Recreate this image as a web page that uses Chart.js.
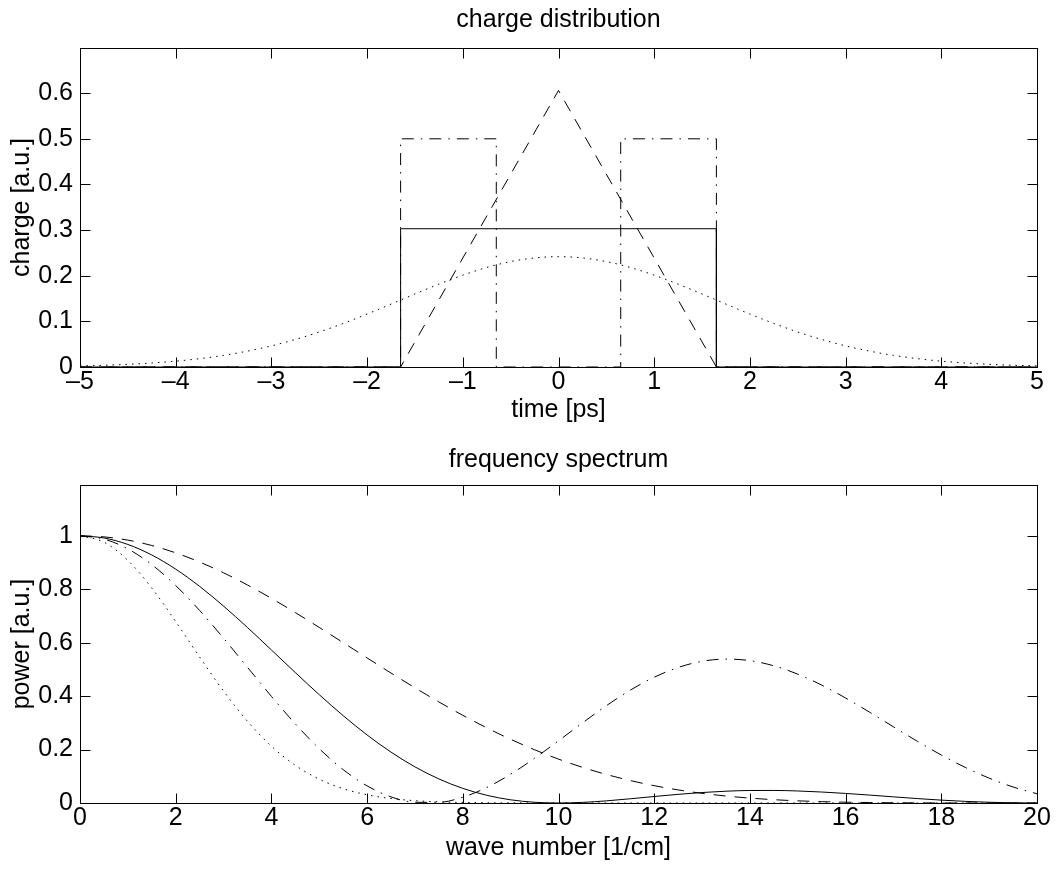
<!DOCTYPE html>
<html>
<head>
<meta charset="utf-8">
<script src="https://cdn.jsdelivr.net/npm/chart.js@4.4.0/dist/chart.umd.min.js"></script>
<style>
  body { margin: 0; background: #fff; }
  canvas { position: absolute; left: 0; }
  #cargaCanvas { top: 0; }
  #espectroCanvas { top: 434px; }
</style>
</head>
<body>
<canvas id="cargaCanvas" width="1056" height="434"></canvas>
<canvas id="espectroCanvas" width="1056" height="435"></canvas>
<script>
// ---- charge distribution (time in ps) ----
const rectT = [-5, -1.65, -1.65, 1.65, 1.65, 5];
const rectQ = [0, 0, 0.303, 0.303, 0, 0];
const triT = [-5, -1.65, 0, 1.65, 5];
const triQ = [0, 0, 0.606, 0, 0];
const dobleT = [-5, -1.65, -1.65, -0.65, -0.65, 0.65, 0.65, 1.65, 1.65, 5];
const dobleQ = [0, 0, 0.5, 0.5, 0, 0, 0.5, 0.5, 0, 0];
const gaussT = [-5, -4.75, -4.5, -4.25, -4, -3.75, -3.5, -3.25, -3, -2.75, -2.5, -2.25, -2, -1.75, -1.5, -1.25, -1, -0.75, -0.5, -0.25,
                0, 0.25, 0.5, 0.75, 1, 1.25, 1.5, 1.75, 2, 2.25, 2.5, 2.75, 3, 3.25, 3.5, 3.75, 4, 4.25, 4.5, 4.75, 5];
const gaussQ = [0.0025, 0.0038, 0.0059, 0.0088, 0.0128, 0.0183, 0.0255, 0.0348, 0.0463, 0.0603, 0.0767, 0.0954, 0.1160, 0.1378, 0.1600, 0.1815, 0.2012, 0.2181, 0.2310, 0.2390,
                0.2418, 0.2390, 0.2310, 0.2181, 0.2012, 0.1815, 0.1600, 0.1378, 0.1160, 0.0954, 0.0767, 0.0603, 0.0463, 0.0348, 0.0255, 0.0183, 0.0128, 0.0088, 0.0059, 0.0038, 0.0025];

// ---- frequency spectrum (wave number in 1/cm) ----
const ondaK = [0, 0.5, 1, 1.5, 2, 2.5, 3, 3.5, 4, 4.5, 5, 5.5, 6, 6.5, 7, 7.5, 8, 8.5, 9, 9.5,
               10, 10.5, 11, 11.5, 12, 12.5, 13, 13.5, 14, 14.5, 15, 15.5, 16, 16.5, 17, 17.5, 18, 18.5, 19, 19.5, 20];
const potRect = [1, 0.9918, 0.9675, 0.9281, 0.8751, 0.8106, 0.7368, 0.6567, 0.5728, 0.4881, 0.4053, 0.3268, 0.2546, 0.1904, 0.1353, 0.0901, 0.0547, 0.0289, 0.0119, 0.0028,
                 0, 0.0023, 0.0080, 0.0158, 0.0243, 0.0324, 0.0392, 0.0441, 0.0468, 0.0470, 0.0450, 0.0411, 0.0358, 0.0296, 0.0230, 0.0165, 0.0108, 0.0061, 0.0027, 0.0007, 0];
const potTri = [1, 0.9959, 0.9837, 0.9637, 0.9361, 0.9018, 0.8614, 0.8158, 0.7659, 0.7126, 0.6570, 0.6001, 0.5429, 0.4863, 0.4312, 0.3782, 0.3281, 0.2813, 0.2383, 0.1992,
                0.1643, 0.1335, 0.1068, 0.0840, 0.0648, 0.0490, 0.0362, 0.0261, 0.0183, 0.0124, 0.0081, 0.0051, 0.0030, 0.0017, 0.0008, 0.0004, 0.0001, 0, 0, 0, 0];
const potDoble = [1, 0.9876, 0.9509, 0.8920, 0.8138, 0.7205, 0.6167, 0.5079, 0.3992, 0.2960, 0.2032, 0.1248, 0.0640, 0.0229, 0.0025, 0.0026, 0.0218, 0.0579, 0.1077, 0.1674,
                  0.2328, 0.2996, 0.3641, 0.4223, 0.4707, 0.5072, 0.5301, 0.5386, 0.5327, 0.5134, 0.4822, 0.4412, 0.3929, 0.3400, 0.2851, 0.2309, 0.1796, 0.1332, 0.0930, 0.0599, 0.0345];
const potGauss = [1, 0.9761, 0.9078, 0.8044, 0.6792, 0.5463, 0.4187, 0.3058, 0.2127, 0.1410, 0.0891, 0.0536, 0.0307, 0.0168, 0.0087, 0.0043, 0.0021, 0.0009, 0.0004, 0.0002,
                  0.0001, 0, 0, 0, 0, 0, 0, 0, 0, 0, 0, 0, 0, 0, 0, 0, 0, 0, 0, 0, 0];

const SOLIDA = [];
const RAYAS = [12, 9];
const PUNTOS = [1.5, 5];
const RAYAPUNTO = [12, 7, 1.5, 7];

const FAMILIA = "'Liberation Sans', Arial, Helvetica, sans-serif";
const fuente = { family: FAMILIA, size: 25 };

function pares(xs, ys) {
    return xs.map((x, i) => ({ x: x, y: ys[i] }));
}

function serie(xs, ys, dash, suave) {
    return {
        data: pares(xs, ys),
        borderColor: '#000',
        borderWidth: 1,
        borderDash: dash,
        pointRadius: 0,
        fill: false,
        showLine: true,
        tension: 0,
        cubicInterpolationMode: suave ? 'monotone' : 'default'
    };
}

// quita ceros sobrantes: 1.0 -> 1, 0.60000001 -> 0.6
function etiqueta(v) {
    return String(Number(v.toFixed(3))).replace('-', '\u2013');
}

// caja completa con marcas hacia adentro (estilo matlab) y titulo centrado en el area
const cajaMarcas = {
    id: 'cajaMarcas',
    afterDatasetsDraw(chart, args, opts) {
        const { ctx, chartArea: a, scales: { x, y } } = chart;
        const L = Math.round(a.left) + 0.5, R = Math.round(a.right) + 0.5;
        const T = Math.round(a.top) + 0.5, B = Math.round(a.bottom) + 0.5;
        ctx.save();
        ctx.strokeStyle = '#000';
        ctx.lineWidth = 1;
        ctx.setLineDash([]);
        ctx.beginPath();
        x.ticks.forEach(t => {
            const px = Math.round(x.getPixelForValue(t.value)) + 0.5;
            ctx.moveTo(px, B); ctx.lineTo(px, B - 10);
            ctx.moveTo(px, T); ctx.lineTo(px, T + 10);
        });
        y.ticks.forEach(t => {
            const py = Math.round(y.getPixelForValue(t.value)) + 0.5;
            ctx.moveTo(L, py); ctx.lineTo(L + 10, py);
            ctx.moveTo(R, py); ctx.lineTo(R - 10, py);
        });
        ctx.stroke();
        ctx.strokeRect(L, T, R - L, B - T);

        ctx.fillStyle = '#000';
        ctx.font = fuente.size + 'px ' + FAMILIA;
        ctx.textAlign = 'center';
        ctx.textBaseline = 'middle';
        ctx.fillText(opts.texto, (a.left + a.right) / 2, opts.y);
        ctx.restore();
    }
};

function crearGrafica(idCanvas, cfg) {
    const ctx = document.getElementById(idCanvas).getContext('2d');
    return new Chart(ctx, {
        type: 'scatter',
        data: { datasets: cfg.series },
        options: {
            responsive: false,
            animation: false,
            layout: { padding: { left: 0, right: 19, top: cfg.arriba, bottom: 0 } },
            plugins: {
                legend: { display: false },
                tooltip: { enabled: false },
                title: { display: false },
                cajaMarcas: { texto: cfg.titulo, y: cfg.yTitulo }
            },
            scales: {
                x: {
                    type: 'linear', min: cfg.xmin, max: cfg.xmax,
                    grid: { display: false, drawTicks: false }, border: { display: false },
                    ticks: { stepSize: cfg.xpaso, padding: 0, color: '#000', font: fuente, maxRotation: 0, autoSkip: false,
                             callback: etiqueta },
                    title: { display: true, text: cfg.xlabel, color: '#000', font: fuente, padding: { top: 0, bottom: cfg.padXlabel } },
                    afterFit: s => { s.height = cfg.altoX; }
                },
                y: {
                    type: 'linear', min: 0, max: cfg.ymax,
                    grid: { display: false, drawTicks: false }, border: { display: false },
                    ticks: { stepSize: cfg.ypaso, includeBounds: false, padding: 7, color: '#000', font: fuente,
                             callback: etiqueta },
                    title: { display: true, text: cfg.ylabel, color: '#000', font: fuente, padding: { top: 7, bottom: 0 } },
                    afterFit: s => { s.width = 80; }
                }
            }
        },
        plugins: [cajaMarcas]
    });
}

crearGrafica('cargaCanvas', {
    titulo: 'charge distribution', yTitulo: 20, arriba: 48,
    xmin: -5, xmax: 5, xpaso: 1, ymax: 0.699, ypaso: 0.1,
    xlabel: 'time [ps]', ylabel: 'charge [a.u.]',
    altoX: 67, padXlabel: 9,
    series: [
        serie(gaussT, gaussQ, PUNTOS, true),
        serie(dobleT, dobleQ, RAYAPUNTO, false),
        serie(triT, triQ, RAYAS, false),
        serie(rectT, rectQ, SOLIDA, false)
    ]
});

crearGrafica('espectroCanvas', {
    titulo: 'frequency spectrum', yTitulo: 26, arriba: 51,
    xmin: 0, xmax: 20, xpaso: 2, ymax: 1.19, ypaso: 0.2,
    xlabel: 'wave number [1/cm]', ylabel: 'power [a.u.]',
    altoX: 66, padXlabel: 6,
    series: [
        serie(ondaK, potGauss, PUNTOS, true),
        serie(ondaK, potDoble, RAYAPUNTO, true),
        serie(ondaK, potTri, RAYAS, true),
        serie(ondaK, potRect, SOLIDA, true)
    ]
});
</script>
</body>
</html>
